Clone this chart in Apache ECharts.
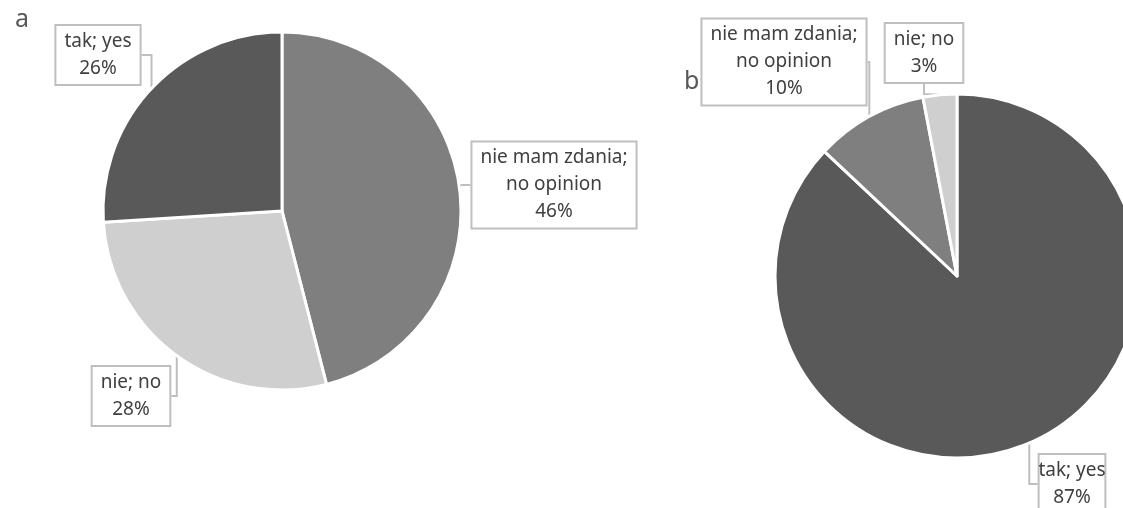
<!DOCTYPE html>
<html>
<head>
<meta charset="utf-8">
<script src="https://cdn.jsdelivr.net/npm/echarts@6/dist/echarts.min.js"></script>
<style>
  html, body { margin: 0; padding: 0; background: #fff; }
  #chart { width: 1123px; height: 508px; }
</style>
</head>
<body>
<div id="chart"></div>
<script>
// panel a
const namesA = ['nie mam zdania;\nno opinion', 'nie; no', 'tak; yes'];
const valuesA = [46, 28, 26];
// panel b
const namesB = ['tak; yes', 'nie mam zdania;\nno opinion', 'nie; no'];
const valuesB = [87, 10, 3];

const colorsA = ['#7f7f7f', '#d0cfd0', '#595959'];
const colorsB = ['#595959', '#7f7f7f', '#d0cfd0'];

// where the label boxes sit
const labelPosA = [[554, 185], [131, 396], [98, 55]];
const labelPosB = [[1072, 484], [784, 62], [924, 53]];

const myChart = echarts.init(document.getElementById('chart'));

function makeSeries(names, values, colors, center, radius, labelPos) {
  return {
    type: 'pie',
    center: center,
    radius: radius,
    startAngle: 90,
    clockwise: true,
    animation: false,
    data: names.map((n, i) => ({
      name: n,
      value: values[i],
      itemStyle: { color: colors[i] },
    })),
    itemStyle: { borderColor: '#fff', borderWidth: 3 },
    label: {
      show: true,
      position: 'outside',
      formatter: '{b}\n{c}%',
      fontFamily: '"Noto Sans", sans-serif',
      fontSize: 19,
      lineHeight: 27,
      color: '#404040',
      align: 'center',
      overflow: 'none',
      backgroundColor: '#fff',
      borderColor: '#bfbfbf',
      borderWidth: 2,
      padding: [3, 8, 1, 8],
    },
    labelLine: {
      show: true,
      length: 10,
      length2: 10,
      lineStyle: { color: '#bfbfbf', width: 2 },
    },
    labelLayout: (params) => ({
      x: labelPos[params.dataIndex][0],
      y: labelPos[params.dataIndex][1],
      align: 'center',
      verticalAlign: 'middle',
    }),
    emphasis: { disabled: true },
  };
}

const chartOption = {
  title: [
    {
      text: 'a',
      left: 10,
      top: 2,
      textStyle: { fontSize: 25, fontWeight: 'normal', color: '#595959', fontFamily: '"Noto Sans", sans-serif' },
    },
    {
      text: 'b',
      left: 679,
      top: 64,
      textStyle: { fontSize: 25, fontWeight: 'normal', color: '#595959', fontFamily: '"Noto Sans", sans-serif' },
    },
  ],
  series: [
    makeSeries(namesA, valuesA, colorsA, [282, 211], 179, labelPosA),
    makeSeries(namesB, valuesB, colorsB, [957, 276], 182, labelPosB),
  ],
};

myChart.setOption(chartOption);
</script>
</body>
</html>
